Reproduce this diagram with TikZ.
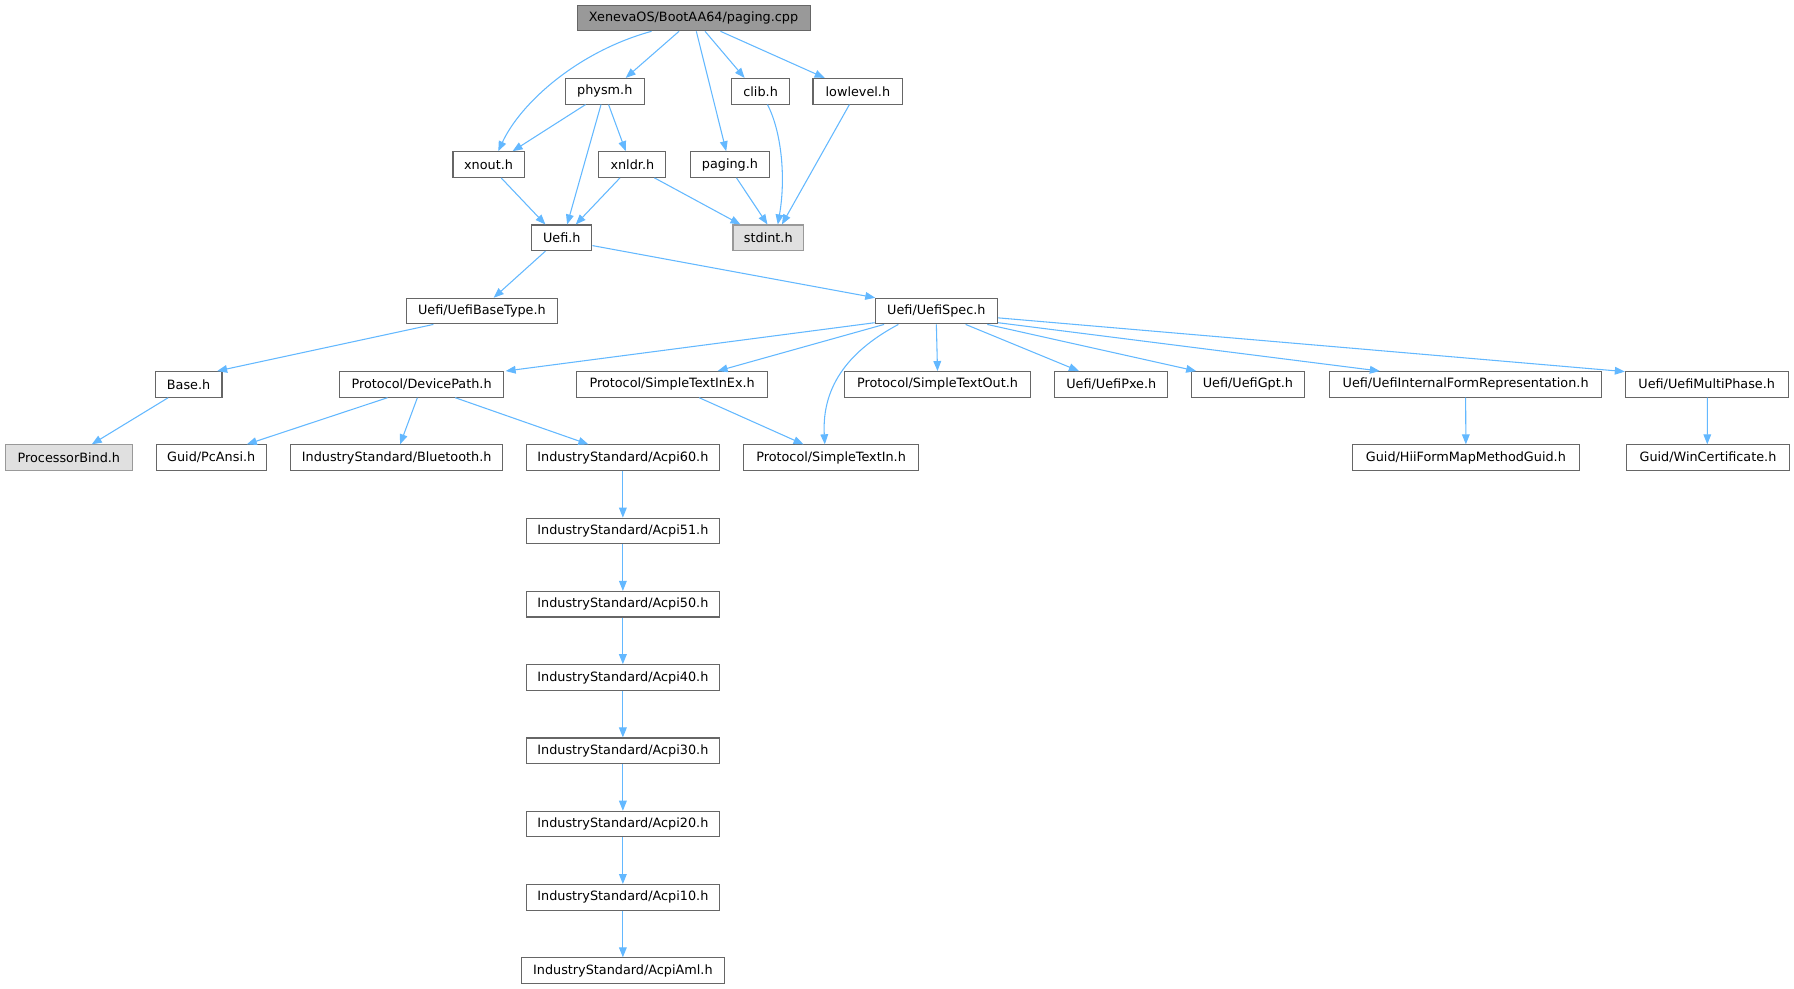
\documentclass[tikz,border=0pt]{standalone}
\usepackage{fontspec}
\setmainfont{DejaVu Sans}
\usetikzlibrary{arrows.meta,calc}
\definecolor{edgec}{HTML}{63B8FF}
\definecolor{boxline}{HTML}{666666}
\definecolor{rootfill}{HTML}{999999}
\definecolor{nodocfill}{HTML}{E0E0E0}
\definecolor{nodocline}{HTML}{999999}
\begin{document}
\begin{tikzpicture}[x=0.858pt,y=-0.858pt,
  filebox/.style={draw=boxline,fill=white,line width=0.8pt,minimum height=19.2pt,inner xsep=1pt,inner ysep=0pt,
    font=\fontsize{9.6}{11}\selectfont,text=black},
  bw/.style={minimum width=#1*0.858pt},
  rootbox/.style={filebox,fill=rootfill},
  nodoc/.style={filebox,fill=nodocfill,draw=nodocline},
  e/.style={draw=edgec,line width=0.8pt,-{Triangle[length=7.5pt,width=5.8pt]}}]
\useasboundingbox (0,0) rectangle (1568,864.4);
% row 0
\node[rootbox,bw=203.7] (root) at (606.2,15.7) {XenevaOS/BootAA64/paging.cpp};
% row 1
\node[filebox,bw=68.8] (physm) at (528.6,79.75) {physm.h};
\node[filebox,bw=50.2] (clib) at (664.8,79.75) {clib.h};
\node[filebox,bw=78.5] (lowlevel) at (749.8,79.75) {lowlevel.h};
% row 2
\node[filebox,bw=62.2] (xnout) at (427,143.8) {xnout.h};
\node[filebox,bw=58.7] (xnldr) at (552.7,143.8) {xnldr.h};
\node[filebox,bw=68.7] (pagingh) at (638,143.8) {paging.h};
% row 3
\node[filebox,bw=52.7] (uefi) at (491,207.85) {Uefi.h};
\node[nodoc,bw=61.7] (stdint) at (671.5,207.85) {stdint.h};
% row 4
\node[filebox,bw=132] (basetype) at (421.2,271.9) {Uefi/UefiBaseType.h};
\node[filebox,bw=106.9] (spec) at (818.4,271.9) {Uefi/UefiSpec.h};
% row 5
\node[filebox,bw=58.5] (base) at (164.8,335.95) {Base.h};
\node[filebox,bw=143] (devpath) at (368.5,335.95) {Protocol/DevicePath.h};
\node[filebox,bw=166.5] (stie) at (587.5,335.95) {Protocol/SimpleTextInEx.h};
\node[filebox,bw=162.8] (sto) at (819.4,335.95) {Protocol/SimpleTextOut.h};
\node[filebox,bw=99] (pxe) at (971.3,335.95) {Uefi/UefiPxe.h};
\node[filebox,bw=98.9] (gpt) at (1090.7,335.95) {Uefi/UefiGpt.h};
\node[filebox,bw=237.3] (ifr) at (1281,335.95) {Uefi/UefiInternalFormRepresentation.h};
\node[filebox,bw=142.2] (multi) at (1491.7,335.95) {Uefi/UefiMultiPhase.h};
% row 6
\node[nodoc,bw=110.5] (procbind) at (60.2,400) {ProcessorBind.h};
\node[filebox,bw=96.4] (pcansi) at (184.6,400) {Guid/PcAnsi.h};
\node[filebox,bw=185.6] (bt) at (346.7,400) {IndustryStandard/Bluetooth.h};
\node[filebox,bw=168.6] (a60) at (544.4,400) {IndustryStandard/Acpi60.h};
\node[filebox,bw=153] (stin) at (726.4,400) {Protocol/SimpleTextIn.h};
\node[filebox,bw=197.8] (hii) at (1281.2,400) {Guid/HiiFormMapMethodGuid.h};
\node[filebox,bw=142] (win) at (1492.8,400) {Guid/WinCertificate.h};
% acpi chain
\node[filebox,bw=168.6] (a51) at (544.4,464.05) {IndustryStandard/Acpi51.h};
\node[filebox,bw=168.6] (a50) at (544.4,528.1) {IndustryStandard/Acpi50.h};
\node[filebox,bw=168.6] (a40) at (544.4,592.15) {IndustryStandard/Acpi40.h};
\node[filebox,bw=168.6] (a30) at (544.4,656.2) {IndustryStandard/Acpi30.h};
\node[filebox,bw=168.6] (a20) at (544.4,720.25) {IndustryStandard/Acpi20.h};
\node[filebox,bw=168.6] (a10) at (544.4,784.3) {IndustryStandard/Acpi10.h};
\node[filebox,bw=178] (aml) at (544.4,848.35) {IndustryStandard/AcpiAml.h};
% edges from root
\draw[e] ($(root.south)+(-36.7,0)$) .. controls (505,45) and (455,90) .. ($(xnout.north)+(8.5,0)$);
\draw[e] ($(root.south)+(-12.7,0)$) -- ($(physm.north)+(18.3,0)$);
\draw[e] ($(root.south)+(2.4,0)$) -- ($(pagingh.north)+(-3.3,0)$);
\draw[e] ($(root.south)+(10,0)$) -- ($(clib.north)+(-14,0)$);
\draw[e] ($(root.south)+(23.5,0)$) -- ($(lowlevel.north)+(-29,0)$);
% physm
\draw[e] ($(physm.south)+(-16.8,0)$) -- ($(xnout.north)+(21,0)$);
\draw[e] ($(physm.south)+(-3.3,0)$) -- ($(uefi.north)+(4.7,0)$);
\draw[e] ($(physm.south)+(3.3,0)$) -- ($(xnldr.north)+(-5.8,0)$);
% clib, lowlevel
\draw[e] ($(clib.south)+(6,0)$) .. controls (683,115) and (687,155) .. ($(stdint.north)+(8.3,0)$);
\draw[e] ($(lowlevel.south)+(-7.4,0)$) -- ($(stdint.north)+(11.9,0)$);
% row 2
\draw[e] ($(xnout.south)+(11,0)$) -- ($(uefi.north)+(-14.3,0)$);
\draw[e] ($(xnldr.south)+(-10.8,0)$) -- ($(uefi.north)+(12.2,0)$);
\draw[e] ($(xnldr.south)+(19.3,0)$) -- ($(stdint.north)+(-24.3,0)$);
\draw[e] ($(pagingh.south)+(5.7,0)$) -- ($(stdint.north)+(-0.7,0)$);
% uefi
\draw[e] ($(uefi.south)+(-14.3,0)$) -- ($(basetype.north)+(10.3,0)$);
\draw[e] ($(uefi.east)+(0,6.8)$) -- ($(spec.north west)+(0.5,0)$);
% basetype, base
\draw[e] ($(basetype.south)+(-42.4,0)$) -- ($(base.north)+(25,0)$);
\draw[e] ($(base.south)+(-17.8,0)$) -- ($(procbind.north)+(20,0)$);
% spec
\draw[e] ($(spec.south west)+(0,-1.5)$) -- ($(devpath.north east)+(1.5,0)$);
\draw[e] ($(spec.south)+(-45.7,0)$) -- ($(stie.north)+(39.7,0)$);
\draw[e] ($(spec.south)+(-33.2,0)$) .. controls (745,305) and (718,335) .. ($(stin.north)+(-5.5,0)$);
\draw[e] (spec.south) -- (sto.north);
\draw[e] ($(spec.south)+(25.6,0)$) -- ($(pxe.north)+(-28.3,0)$);
\draw[e] ($(spec.south)+(44.5,0)$) -- ($(gpt.north)+(-45.2,0)$);
\draw[e] ($(spec.south east)+(0,-1.5)$) -- ($(ifr.north)+(-75,0)$);
\draw[e] ($(spec.east)+(0,5.9)$) -- ($(multi.north west)+(0,0.5)$);
% row 5
\draw[e] ($(stie.south)+(23.6,0)$) -- ($(stin.north)+(-24.1,0)$);
\draw[e] ($(devpath.south)+(-29.8,0)$) -- ($(pcansi.north)+(31.1,0)$);
\draw[e] ($(devpath.south)+(-3.7,0)$) -- ($(bt.north)+(3,0)$);
\draw[e] ($(devpath.south)+(29.4,0)$) -- ($(a60.north)+(-30.1,0)$);
\draw[e] (ifr.south) -- (hii.north);
\draw[e] ($(multi.south)+(0.5,0)$) -- ($(win.north)+(-0.6,0)$);
% acpi chain
\draw[e] (a60) -- (a51);
\draw[e] (a51) -- (a50);
\draw[e] (a50) -- (a40);
\draw[e] (a40) -- (a30);
\draw[e] (a30) -- (a20);
\draw[e] (a20) -- (a10);
\draw[e] (a10) -- (aml);
\end{tikzpicture}
\end{document}
